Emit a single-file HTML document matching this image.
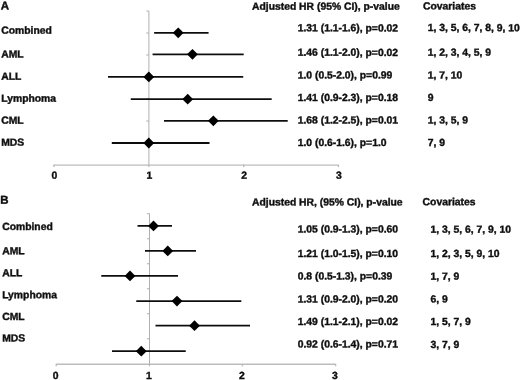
<!DOCTYPE html>
<html><head><meta charset="utf-8"><title>Forest plot</title>
<style>
html,body{margin:0;padding:0;background:#fff;}
svg{display:block}
.b{font-family:"Liberation Sans",Arial,sans-serif;font-weight:bold;font-size:10.35px;fill:#111;stroke:#111;stroke-width:0.4px;}
.L{font-size:11.5px}
.ax{stroke:#bcbcbc;stroke-width:1.4;fill:none}
.vx{stroke:#b0b0b0;stroke-width:1;fill:none}
.eb{stroke:#111;stroke-width:1.8;fill:none}
</style></head><body>
<svg width="520" height="380" viewBox="0 0 520 380">
<defs><filter id="soft" x="0" y="0" width="520" height="380" filterUnits="userSpaceOnUse"><feGaussianBlur stdDeviation="0.4"/></filter></defs>
<rect width="520" height="380" fill="#fff"/>
<g filter="url(#soft)">
<text x="0.8" y="9.6" transform="rotate(0.03 0.8 9.6)" class="b L">A</text>
<text x="252" y="9.7" transform="rotate(0.03 252 9.7)" class="b">Adjusted HR (95% CI), p-value</text>
<text x="423.0" y="9.5" transform="rotate(0.03 423.0 9.5)" class="b">Covariates</text>
<path d="M53.9 165.1H338.4" class="ax"/>
<path d="M148.9 11V167.1" class="vx"/>
<path d="M53.9 164.6V167.1" class="ax"/>
<text x="54.40" y="178.7" transform="rotate(0.03 54.40 178.7)" class="b" text-anchor="middle">0</text>
<text x="149.40" y="178.7" transform="rotate(0.03 149.40 178.7)" class="b" text-anchor="middle">1</text>
<path d="M243.70000000000002 164.6V167.1" class="ax"/>
<text x="244.20" y="178.7" transform="rotate(0.03 244.20 178.7)" class="b" text-anchor="middle">2</text>
<path d="M338.4 164.6V167.1" class="ax"/>
<text x="338.90" y="178.7" transform="rotate(0.03 338.90 178.7)" class="b" text-anchor="middle">3</text>
<path d="M146.3 11H148.9" class="vx"/>
<path d="M146.3 33H148.9" class="vx"/>
<path d="M146.3 55H148.9" class="vx"/>
<path d="M146.3 77H148.9" class="vx"/>
<path d="M146.3 99H148.9" class="vx"/>
<path d="M146.3 121H148.9" class="vx"/>
<path d="M146.3 143H148.9" class="vx"/>
<text x="1.25" y="33.85" transform="rotate(0.03 1.25 33.85)" class="b">Combined</text>
<path d="M154.11 32.8H208.59" class="eb"/>
<path d="M172.82 32.8L178.22 27.4L183.62 32.8L178.22 38.199999999999996Z" fill="#000"/>
<text x="297.7" y="31.35" transform="rotate(0.03 297.7 31.35)" class="b">1.31 (1.1-1.6), p=0.02</text>
<text x="427.7" y="31.1" transform="rotate(0.03 427.7 31.1)" class="b">1, 3, 5, 6, 7, 8, 9, 10</text>
<text x="1.25" y="57.6" transform="rotate(0.03 1.25 57.6)" class="b">AML</text>
<path d="M152.60 54.3H243.70" class="eb"/>
<path d="M187.05 54.3L192.45 48.9L197.85 54.3L192.45 59.699999999999996Z" fill="#000"/>
<text x="297.7" y="55.85" transform="rotate(0.03 297.7 55.85)" class="b">1.46 (1.1-2.0), p=0.02</text>
<text x="427.7" y="55.85" transform="rotate(0.03 427.7 55.85)" class="b">1, 2, 3, 4, 5, 9</text>
<text x="1.25" y="79.85" transform="rotate(0.03 1.25 79.85)" class="b">ALL</text>
<path d="M107.99 76.9H243.23" class="eb"/>
<path d="M143.40 76.9L148.80 71.5L154.20 76.9L148.80 82.30000000000001Z" fill="#000"/>
<text x="297.7" y="78.45" transform="rotate(0.03 297.7 78.45)" class="b">1.0 (0.5-2.0), p=0.99</text>
<text x="427.7" y="78.45" transform="rotate(0.03 427.7 78.45)" class="b">1, 7, 10</text>
<text x="1.25" y="101.75" transform="rotate(0.03 1.25 101.75)" class="b">Lymphoma</text>
<path d="M130.77 99.2H271.70" class="eb"/>
<path d="M182.31 99.2L187.71 93.8L193.11 99.2L187.71 104.60000000000001Z" fill="#000"/>
<text x="297.7" y="100.95" transform="rotate(0.03 297.7 100.95)" class="b">1.41 (0.9-2.3), p=0.18</text>
<text x="427.7" y="100.95" transform="rotate(0.03 427.7 100.95)" class="b">9</text>
<text x="1.25" y="123.85" transform="rotate(0.03 1.25 123.85)" class="b">CML</text>
<path d="M163.98 120.8H287.73" class="eb"/>
<path d="M207.93 120.8L213.33 115.39999999999999L218.73 120.8L213.33 126.2Z" fill="#000"/>
<text x="297.7" y="123.45" transform="rotate(0.03 297.7 123.45)" class="b">1.68 (1.2-2.5), p=0.01</text>
<text x="427.7" y="123.45" transform="rotate(0.03 427.7 123.45)" class="b">1, 3, 5, 9</text>
<text x="1.25" y="145.85" transform="rotate(0.03 1.25 145.85)" class="b">MDS</text>
<path d="M111.79 143H209.54" class="eb"/>
<path d="M143.40 143L148.80 137.6L154.20 143L148.80 148.4Z" fill="#000"/>
<text x="297.7" y="145.95" transform="rotate(0.03 297.7 145.95)" class="b">1.0 (0.6-1.6), p=1.0</text>
<text x="427.7" y="145.95" transform="rotate(0.03 427.7 145.95)" class="b">7, 9</text>
<text x="0.3" y="203.8" transform="rotate(0.03 0.3 203.8)" class="b L">B</text>
<text x="252" y="205.4" transform="rotate(0.03 252 205.4)" class="b">Adjusted HR, (95% CI), p-value</text>
<text x="422.6" y="205.2" transform="rotate(0.03 422.6 205.2)" class="b">Covariates</text>
<path d="M56.25 364.3H335.6" class="ax"/>
<path d="M149.5 213.5V366.3" class="vx"/>
<path d="M56.25 363.8V366.3" class="ax"/>
<text x="55.65" y="379.1" transform="rotate(0.03 55.65 379.1)" class="b" text-anchor="middle">0</text>
<text x="148.90" y="379.1" transform="rotate(0.03 148.90 379.1)" class="b" text-anchor="middle">1</text>
<path d="M242.45 363.8V366.3" class="ax"/>
<text x="241.85" y="379.1" transform="rotate(0.03 241.85 379.1)" class="b" text-anchor="middle">2</text>
<path d="M335.6 363.8V366.3" class="ax"/>
<text x="335.00" y="379.1" transform="rotate(0.03 335.00 379.1)" class="b" text-anchor="middle">3</text>
<path d="M146.9 213.75H149.5" class="vx"/>
<path d="M146.9 238.75H149.5" class="vx"/>
<path d="M146.9 263.75H149.5" class="vx"/>
<path d="M146.9 288.75H149.5" class="vx"/>
<path d="M146.9 313.75H149.5" class="vx"/>
<path d="M146.9 338.75H149.5" class="vx"/>
<text x="2.2" y="230.1" transform="rotate(0.03 2.2 230.1)" class="b">Combined</text>
<path d="M137.50 225.9H172.00" class="eb"/>
<path d="M148.10 225.9L153.50 220.5L158.90 225.9L153.50 231.3Z" fill="#000"/>
<text x="297.7" y="232.5" transform="rotate(0.03 297.7 232.5)" class="b">1.05 (0.9-1.3), p=0.60</text>
<text x="430.5" y="232.7" transform="rotate(0.03 430.5 232.7)" class="b">1, 3, 5, 6, 7, 9, 10</text>
<text x="2.2" y="254.35" transform="rotate(0.03 2.2 254.35)" class="b">AML</text>
<path d="M145.00 250.9H196.00" class="eb"/>
<path d="M162.35 250.9L167.75 245.5L173.15 250.9L167.75 256.3Z" fill="#000"/>
<text x="297.7" y="256.9" transform="rotate(0.03 297.7 256.9)" class="b">1.21 (1.0-1.5), p=0.10</text>
<text x="430.5" y="256.9" transform="rotate(0.03 430.5 256.9)" class="b">1, 2, 3, 5, 9, 10</text>
<text x="2.2" y="276.35" transform="rotate(0.03 2.2 276.35)" class="b">ALL</text>
<path d="M101.25 275.9H178.00" class="eb"/>
<path d="M124.60 275.9L130.00 270.5L135.40 275.9L130.00 281.29999999999995Z" fill="#000"/>
<text x="297.7" y="279.4" transform="rotate(0.03 297.7 279.4)" class="b">0.8 (0.5-1.3), p=0.39</text>
<text x="430.5" y="279.7" transform="rotate(0.03 430.5 279.7)" class="b">1, 7, 9</text>
<text x="2.2" y="298.35" transform="rotate(0.03 2.2 298.35)" class="b">Lymphoma</text>
<path d="M136.25 301.1H241.30" class="eb"/>
<path d="M171.60 301.1L177.00 295.70000000000005L182.40 301.1L177.00 306.5Z" fill="#000"/>
<text x="297.7" y="302.4" transform="rotate(0.03 297.7 302.4)" class="b">1.31 (0.9-2.0), p=0.20</text>
<text x="430.5" y="302.5" transform="rotate(0.03 430.5 302.5)" class="b">6, 9</text>
<text x="2.2" y="320.1" transform="rotate(0.03 2.2 320.1)" class="b">CML</text>
<path d="M155.50 325.7H250.00" class="eb"/>
<path d="M189.10 325.7L194.50 320.3L199.90 325.7L194.50 331.09999999999997Z" fill="#000"/>
<text x="297.7" y="324.9" transform="rotate(0.03 297.7 324.9)" class="b">1.49 (1.1-2.1), p=0.02</text>
<text x="430.5" y="324.9" transform="rotate(0.03 430.5 324.9)" class="b">1, 5, 7, 9</text>
<text x="2.2" y="341.6" transform="rotate(0.03 2.2 341.6)" class="b">MDS</text>
<path d="M112.00 351.2H185.75" class="eb"/>
<path d="M135.85 351.2L141.25 345.8L146.65 351.2L141.25 356.59999999999997Z" fill="#000"/>
<text x="297.7" y="347.5" transform="rotate(0.03 297.7 347.5)" class="b">0.92 (0.6-1.4), p=0.71</text>
<text x="430.5" y="347.9" transform="rotate(0.03 430.5 347.9)" class="b">3, 7, 9</text>
</g>
</svg>
</body></html>
